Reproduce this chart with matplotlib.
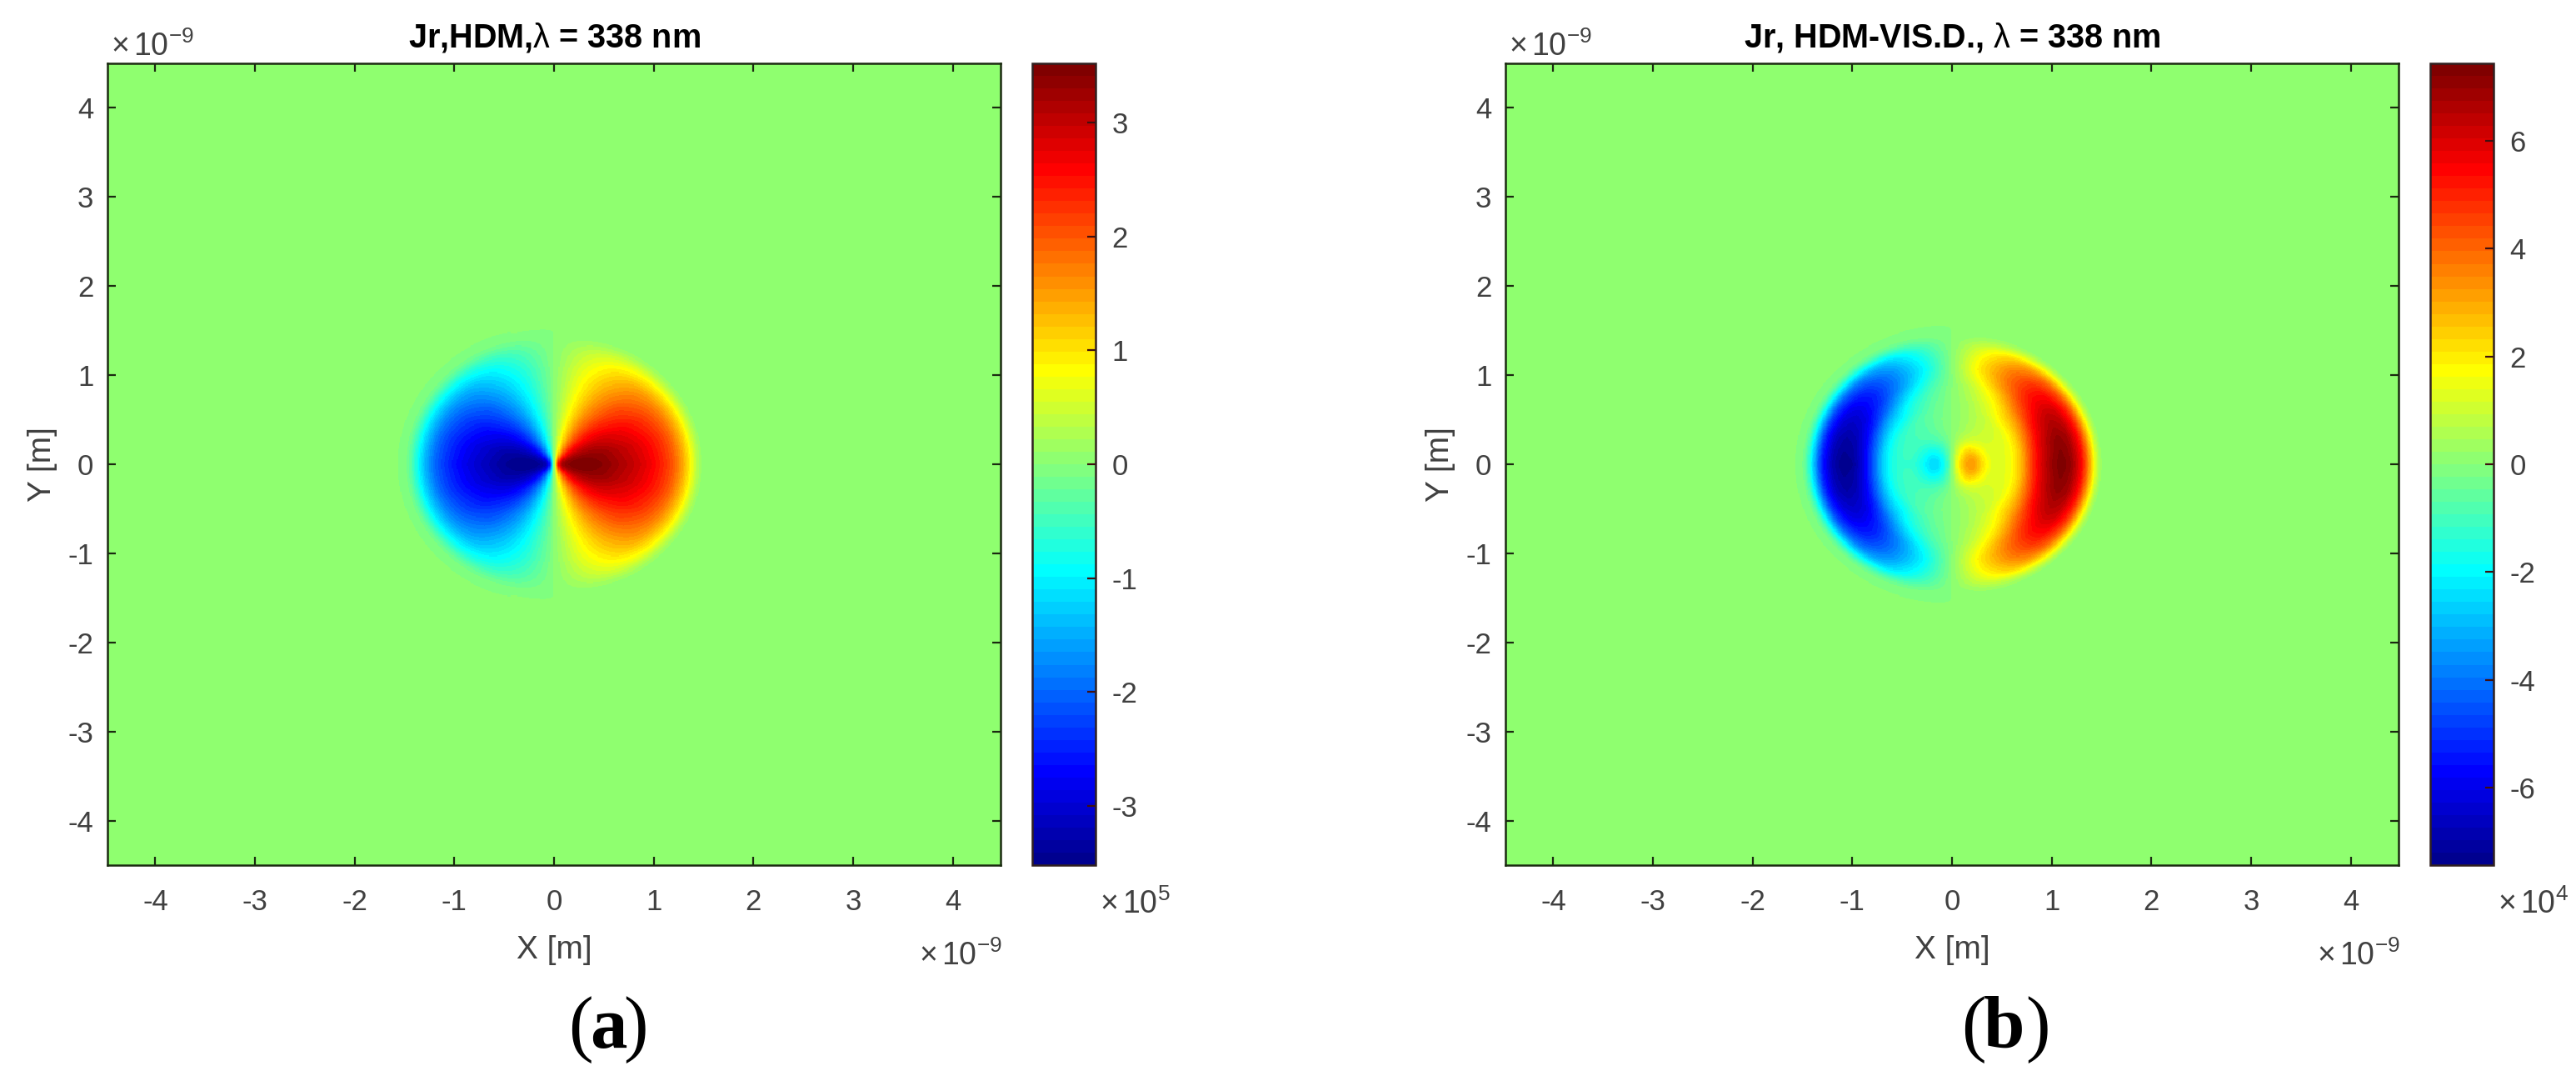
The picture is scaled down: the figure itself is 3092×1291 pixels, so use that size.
import numpy as np
import matplotlib
matplotlib.use("Agg")
import matplotlib.pyplot as plt
from matplotlib.colors import ListedColormap

W, H = 3092, 1291
plt.rcParams['font.family'] = ['Liberation Sans', 'DejaVu Sans']
plt.rcParams['mathtext.fontset'] = 'custom'
plt.rcParams['mathtext.rm'] = 'Liberation Sans'
plt.rcParams['mathtext.it'] = 'Liberation Sans:italic'
plt.rcParams['mathtext.bf'] = 'Liberation Sans:bold'
plt.rcParams['axes.unicode_minus'] = False

# angle from the x axis (deg) and radius (nm) of the value tables
theta_deg = [0, 15, 30, 45, 60, 75, 90]
radii_a = [0, .03, .06, .1, .2, .3, .4, .5, .6, .7, .8, .9, 1.0, 1.1, 1.2, 1.3, 1.35, 1.4, 1.45, 1.5, 1.55, 7]
radii_b = [0, .03, .06, .1, .15, .2, .25, .3, .4, .5, .6, .7, .8, .9, 1.0, 1.1, 1.2, 1.3, 1.35, 1.4, 1.45, 1.5, 1.55, 7]

# percent of the peak
panel_a = [
    [0, 0, 0, 0, 0, 0, 0],
    [60, 58, 52, 42, 30, 16, 0],
    [88, 85, 76, 62, 44, 23, 0],
    [96, 93, 83, 68, 48, 25, 0],
    [100, 97, 87, 71, 50, 26, 0],
    [100, 97, 87, 71, 50, 26, 0],
    [99, 96, 86, 70, 50, 26, 0],
    [97, 94, 84, 69, 49, 25, 0],
    [93, 90, 81, 66, 47, 24, 0],
    [89, 86, 77, 63, 45, 23, 0],
    [85, 82, 74, 60, 43, 22, 0],
    [80, 77, 69, 57, 40, 21, 0],
    [74, 71, 64, 52, 37, 20, 0],
    [66, 64, 57, 47, 33, 18, 0],
    [56, 54, 48, 40, 28, 15, 0],
    [40, 38, 34, 28, 20, 11, 0],
    [29, 28, 25, 21, 15, 8, 0],
    [17, 16, 15, 12, 9, 5, 0],
    [7, 7, 6, 5, 4, 2, 0],
    [1, 1, 1, 1, 1, 0, 0],
    [0, 0, 0, 0, 0, 0, 0],
    [0, 0, 0, 0, 0, 0, 0],
]
panel_b_right = [
    [0, 0, 0, 0, 0, 0, 0],
    [12, 12, 10, 8, 6, 3, 0],
    [25, 24, 22, 18, 12, 6, 0],
    [34, 33, 29, 24, 17, 9, 0],
    [42, 41, 36, 30, 21, 11, 0],
    [45, 43, 39, 32, 22, 12, 0],
    [40, 39, 35, 28, 20, 10, 0],
    [30, 29, 26, 21, 15, 8, 0],
    [18, 17, 16, 14, 10, 5, 0],
    [17, 17, 16, 14, 10, 5, 0],
    [22, 21, 19, 16, 11, 6, 0],
    [38, 35, 31, 27, 16, 7, 0],
    [63, 58, 48, 38, 22, 10, 0],
    [82, 78, 68, 52, 32, 14, 0],
    [94, 90, 80, 64, 44, 22, 0],
    [100, 96, 86, 70, 50, 28, 0],
    [94, 91, 82, 68, 49, 27, 0],
    [74, 72, 65, 55, 40, 21, 0],
    [56, 54, 50, 42, 31, 16, 0],
    [34, 33, 30, 26, 18, 9, 0],
    [14, 13, 12, 10, 7, 4, 0],
    [2, 2, 2, 1, 1, 1, 0],
    [0, 0, 0, 0, 0, 0, 0],
    [0, 0, 0, 0, 0, 0, 0],
]
panel_b_left = [
    [0, 0, 0, 0, 0, 0, 0],
    [10, 10, 8, 7, 5, 2, 0],
    [20, 19, 17, 14, 10, 5, 0],
    [28, 27, 24, 20, 14, 7, 0],
    [34, 33, 29, 24, 17, 9, 0],
    [34, 33, 29, 24, 17, 9, 0],
    [30, 29, 26, 21, 15, 8, 0],
    [24, 23, 21, 17, 12, 6, 0],
    [16, 15, 14, 12, 9, 4, 0],
    [16, 15, 14, 12, 9, 4, 0],
    [21, 20, 18, 15, 10, 5, 0],
    [36, 34, 30, 26, 16, 7, 0],
    [62, 58, 48, 38, 22, 10, 0],
    [85, 80, 70, 54, 34, 15, 0],
    [98, 92, 82, 66, 46, 23, 0],
    [100, 95, 85, 70, 50, 28, 0],
    [92, 89, 80, 66, 48, 26, 0],
    [72, 70, 63, 53, 39, 20, 0],
    [54, 52, 48, 40, 30, 15, 0],
    [32, 31, 28, 24, 17, 9, 0],
    [13, 12, 11, 9, 6, 3, 0],
    [2, 2, 2, 1, 1, 1, 0],
    [0, 0, 0, 0, 0, 0, 0],
    [0, 0, 0, 0, 0, 0, 0],
]
peak_a = 3.52   # x 1e5
peak_b = 7.43   # x 1e4

xy_ticks = [-4, -3, -2, -1, 0, 1, 2, 3, 4]
cbar_ticks_a = [-3, -2, -1, 0, 1, 2, 3]
cbar_ticks_b = [-6, -4, -2, 0, 2, 4, 6]
titles = ['Jr,HDM,$\\mathrm{\\lambda}$ = 338 nm', 'Jr, HDM-VIS.D., $\\mathrm{\\lambda}$ = 338 nm']
captions = ['a', 'b']

# MATLAB-style 64-level jet
_x = np.arange(1, 65) / 64
jet64 = ListedColormap(np.column_stack([
    np.clip(np.minimum(4 * _x - 1.5, -4 * _x + 4.5), 0, 1),
    np.clip(np.minimum(4 * _x - 0.5, -4 * _x + 3.5), 0, 1),
    np.clip(np.minimum(4 * _x + 0.5, -4 * _x + 2.5), 0, 1)]))


def lookup(radii, table, r, th):
    radii = np.asarray(radii, float)
    table = np.asarray(table, float)
    angs = np.asarray(theta_deg, float)
    i = np.clip(np.searchsorted(radii, r, side='right') - 1, 0, len(radii) - 2)
    j = np.clip(np.searchsorted(angs, th, side='right') - 1, 0, len(angs) - 2)
    u = np.clip((r - radii[i]) / (radii[i + 1] - radii[i]), 0, 1)
    v = np.clip((th - angs[j]) / (angs[j + 1] - angs[j]), 0, 1)
    return ((1 - u) * (1 - v) * table[i, j] + u * (1 - v) * table[i + 1, j]
            + (1 - u) * v * table[i, j + 1] + u * v * table[i + 1, j + 1])


def soften(Z):
    # the reference raster is slightly blurred
    k = np.array([1, 4, 9, 14, 16, 14, 9, 4, 1], float)
    k /= k.sum()
    Z = np.apply_along_axis(lambda a: np.convolve(a, k, mode='same'), 0, Z)
    Z = np.apply_along_axis(lambda a: np.convolve(a, k, mode='same'), 1, Z)
    # rounding noise around zero must not fall into the lower colour level
    Z[np.abs(Z) < 0.02] = 0.02
    return Z


def field(radii, right, left, peak):
    g = np.linspace(-4.5, 4.5, 901)
    X, Y = np.meshgrid(g, g)
    r = np.hypot(X, Y)
    th = np.degrees(np.arctan2(np.abs(Y), np.abs(X)))
    Z = np.where(X >= 0, lookup(radii, right, r, th), -lookup(radii, left, r, th))
    return soften(Z) / 100 * peak


def axpx(x0, y0, x1, y1):
    return fig.add_axes([x0 / W, 1 - y1 / H, (x1 - x0) / W, (y1 - y0) / H])


def txt(x, y, s, **kw):
    kw.setdefault('color', '#404040')
    kw.setdefault('va', 'baseline')
    fig.text(x / W, 1 - y / H, s, **kw)


fig = plt.figure(figsize=(W / 100, H / 100), dpi=100, facecolor='white')

panels = [
    (129, 1201, 1239, 1315, field(radii_a, panel_a, panel_a, peak_a), peak_a, cbar_ticks_a, '5', (697, 730, 763)),
    (1807, 2879, 2917, 2993, field(radii_b, panel_b_right, panel_b_left, peak_b), peak_b, cbar_ticks_b, '4', (2369, 2406, 2446)),
]
TOP, BOT = 76, 1038
for k, (x0, x1, c0, c1, Z, peak, cticks, cexp, capx) in enumerate(panels):
    ax = axpx(x0, TOP, x1, BOT)
    im = ax.imshow(Z, extent=[-4.5, 4.5, -4.5, 4.5], origin='lower', cmap=jet64,
                   vmin=-peak, vmax=peak, aspect='auto', interpolation='nearest')
    ax.set_xlim(-4.48, 4.48)
    ax.set_ylim(-4.5, 4.5)
    ax.set_xticks(xy_ticks)
    ax.set_yticks(xy_ticks)
    ax.tick_params(direction='in', top=True, right=True, length=7, width=1.6,
                   color='#1a2a10', labelsize=25, labelcolor='#404040')
    ax.tick_params(axis='x', pad=20)
    ax.tick_params(axis='y', pad=12)
    for s in ax.spines.values():
        s.set_linewidth(1.8)
        s.set_color('#1a2a10')
    ax.set_title(titles[k], fontsize=28.5, fontweight='bold', color='black', pad=14)
    ax.set_xlabel('X [m]', fontsize=28, color='#404040', va='baseline')
    ax.xaxis.set_label_coords(0.5, -(1150 - BOT) / (BOT - TOP))
    ax.set_ylabel('Y [m]', fontsize=28, color='#404040', va='baseline')
    ax.yaxis.set_label_coords(-68 / (x1 - x0), 0.5)

    cax = axpx(c0, TOP, c1, BOT)
    cb = fig.colorbar(im, cax=cax, ticks=cticks)
    cb.ax.tick_params(direction='in', length=7, width=1.6, color='#401010',
                      labelsize=25, labelcolor='#404040', pad=14)
    cb.outline.set_linewidth(1.8)
    cb.outline.set_edgecolor('#302020')

    txt(x0 + 4, 67, '$\\times\\,10^{-9}$', fontsize=27, ha='left')
    txt(x1 + 2, 1158, '$\\times\\,10^{-9}$', fontsize=27, ha='right')
    txt(c0 + 81, 1096, '$\\times\\,10^{%s}$' % cexp, fontsize=27, ha='left')
    txt(capx[0], 1257, '(', fontsize=64, ha='center', family='Liberation Serif', color='black')
    txt(capx[1], 1257, captions[k], fontsize=64, ha='center', family='Liberation Serif',
        color='black', fontweight='bold')
    txt(capx[2], 1257, ')', fontsize=64, ha='center', family='Liberation Serif', color='black')

fig.savefig('out.png', dpi=100)
